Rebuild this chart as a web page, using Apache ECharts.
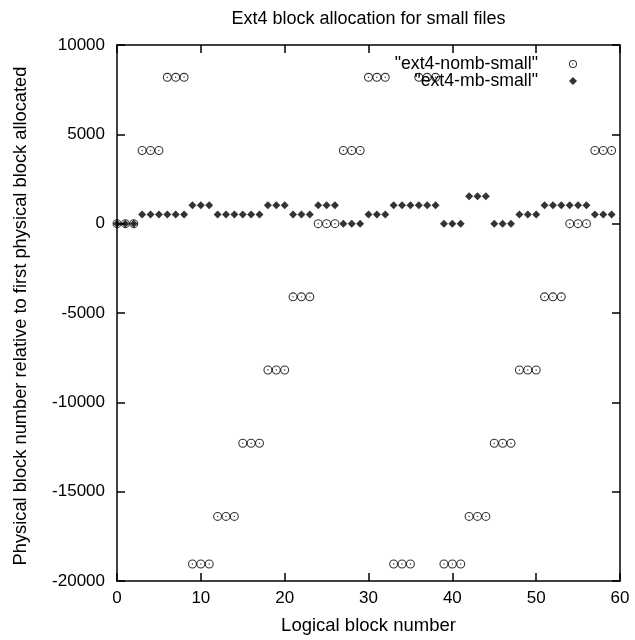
<!DOCTYPE html>
<html>
<head>
<meta charset="utf-8">
<script src="https://cdn.jsdelivr.net/npm/echarts@6/dist/echarts.min.js"></script>
<style>
  html, body { margin: 0; padding: 0; background: #fff; }
  #chart { width: 635px; height: 640px; }
</style>
</head>
<body>
<div id="chart"></div>
<script>
// logical block numbers
const logicalBlocks = [
    0, 1, 2, 3, 4, 5, 6, 7, 8, 9,
    10, 11, 12, 13, 14, 15, 16, 17, 18, 19,
    20, 21, 22, 23, 24, 25, 26, 27, 28, 29,
    30, 31, 32, 33, 34, 35, 36, 37, 38, 39,
    40, 41, 42, 43, 44, 45, 46, 47, 48, 49,
    50, 51, 52, 53, 54, 55, 56, 57, 58, 59
];
// "ext4-nomb-small"
const nombSmall = [
    0, 0, 0, 4096, 4096, 4096, 8192, 8192, 8192, -19050,
    -19050, -19050, -16384, -16384, -16384, -12288, -12288, -12288, -8192, -8192,
    -8192, -4096, -4096, -4096, 0, 0, 0, 4096, 4096, 4096,
    8192, 8192, 8192, -19050, -19050, -19050, 8192, 8192, 8192, -19050,
    -19050, -19050, -16384, -16384, -16384, -12288, -12288, -12288, -8192, -8192,
    -8192, -4096, -4096, -4096, 0, 0, 0, 4096, 4096, 4096
];
// "ext4-mb-small"
const mbSmall = [
    0, 0, 0, 512, 512, 512, 512, 512, 512, 1024,
    1024, 1024, 512, 512, 512, 512, 512, 512, 1024, 1024,
    1024, 512, 512, 512, 1024, 1024, 1024, 0, 0, 0,
    512, 512, 512, 1024, 1024, 1024, 1024, 1024, 1024, 0,
    0, 0, 1536, 1536, 1536, 0, 0, 0, 512, 512,
    512, 1024, 1024, 1024, 1024, 1024, 1024, 512, 512, 512
];
const seriesNames = ['"ext4-nomb-small"', '"ext4-mb-small"'];
const xTicks = [0, 10, 20, 30, 40, 50, 60];
const yTicks = [-20000, -15000, -10000, -5000, 0, 5000, 10000];

const fontFamily = '"Liberation Sans", Arial, sans-serif';
const tickFont = 17;

// open circle with a dot in the middle
const circleDot = 'path://M0,-10A10,10 0 1,1 0,10A10,10 0 1,1 0,-10Z' +
    'M0,-7.6A7.6,7.6 0 1,0 0,7.6A7.6,7.6 0 1,0 0,-7.6Z' +
    'M0,-1.6A1.6,1.6 0 1,1 0,1.6A1.6,1.6 0 1,1 0,-1.6Z';

const pairs = (ys) => logicalBlocks.map((x, i) => [x, ys[i]]);

const axisBase = {
    type: 'value',
    axisLine: { show: true, onZero: false, lineStyle: { color: '#000', width: 1.5 } },
    axisTick: { show: true, inside: true, length: 8, lineStyle: { color: '#000', width: 1.5 } },
    splitLine: { show: false },
    axisLabel: {
        color: '#000', fontSize: tickFont, fontFamily: fontFamily,
        formatter: (v) => String(v)
    }
};

const xBase = Object.assign({}, axisBase, {
    min: xTicks[0], max: xTicks[xTicks.length - 1], interval: xTicks[1] - xTicks[0]
});
const yBase = Object.assign({}, axisBase, {
    min: yTicks[0], max: yTicks[yTicks.length - 1], interval: yTicks[1] - yTicks[0]
});

const legendText = { color: '#000', fontSize: 17.7, fontFamily: fontFamily, padding: [0, 26, 0, 0] };

const option = {
    backgroundColor: '#fff',
    animation: false,
    title: {
        text: 'Ext4 block allocation for small files',
        left: 368.5,
        top: 10,
        padding: 0,
        textAlign: 'center',
        textStyle: { color: '#000', fontSize: 18, fontWeight: 'normal', fontFamily: fontFamily }
    },
    legend: [
        {
            data: [seriesNames[0]],
            orient: 'vertical',
            align: 'right',
            right: 58,
            top: 55,
            padding: 0,
            itemWidth: 8,
            itemHeight: 8,
            textStyle: legendText
        },
        {
            data: [seriesNames[1]],
            orient: 'vertical',
            align: 'right',
            right: 58,
            top: 72,
            padding: 0,
            itemWidth: 8,
            itemHeight: 8,
            textStyle: legendText
        }
    ],
    grid: { left: 117, right: 15, top: 45, bottom: 55, containLabel: false },
    xAxis: [
        Object.assign({}, xBase, {
            position: 'bottom',
            name: 'Logical block number',
            nameLocation: 'middle',
            nameGap: 35,
            nameTextStyle: { color: '#000', fontSize: 18.5, fontFamily: fontFamily },
            axisLabel: Object.assign({}, axisBase.axisLabel, { margin: 9 })
        }),
        Object.assign({}, xBase, { position: 'top', axisLabel: { show: false } })
    ],
    yAxis: [
        Object.assign({}, yBase, {
            position: 'left',
            name: 'Physical block number relative to first physical block allocated',
            nameLocation: 'middle',
            nameGap: 87,
            nameTextStyle: { color: '#000', fontSize: 18.3, fontFamily: fontFamily, padding: [0, 6, 0, 0] },
            axisLabel: Object.assign({}, axisBase.axisLabel, { margin: 12 })
        }),
        Object.assign({}, yBase, { position: 'right', axisLabel: { show: false } })
    ],
    series: [
        {
            name: seriesNames[0],
            type: 'scatter',
            symbol: circleDot,
            symbolSize: 9,
            itemStyle: { color: '#000' },
            data: pairs(nombSmall)
        },
        {
            name: seriesNames[1],
            type: 'scatter',
            symbol: 'diamond',
            symbolSize: 8,
            itemStyle: { color: '#000' },
            data: pairs(mbSmall)
        }
    ]
};

const chart = echarts.init(document.getElementById('chart'), null, { renderer: 'canvas' });
chart.setOption(option);
</script>
</body>
</html>
